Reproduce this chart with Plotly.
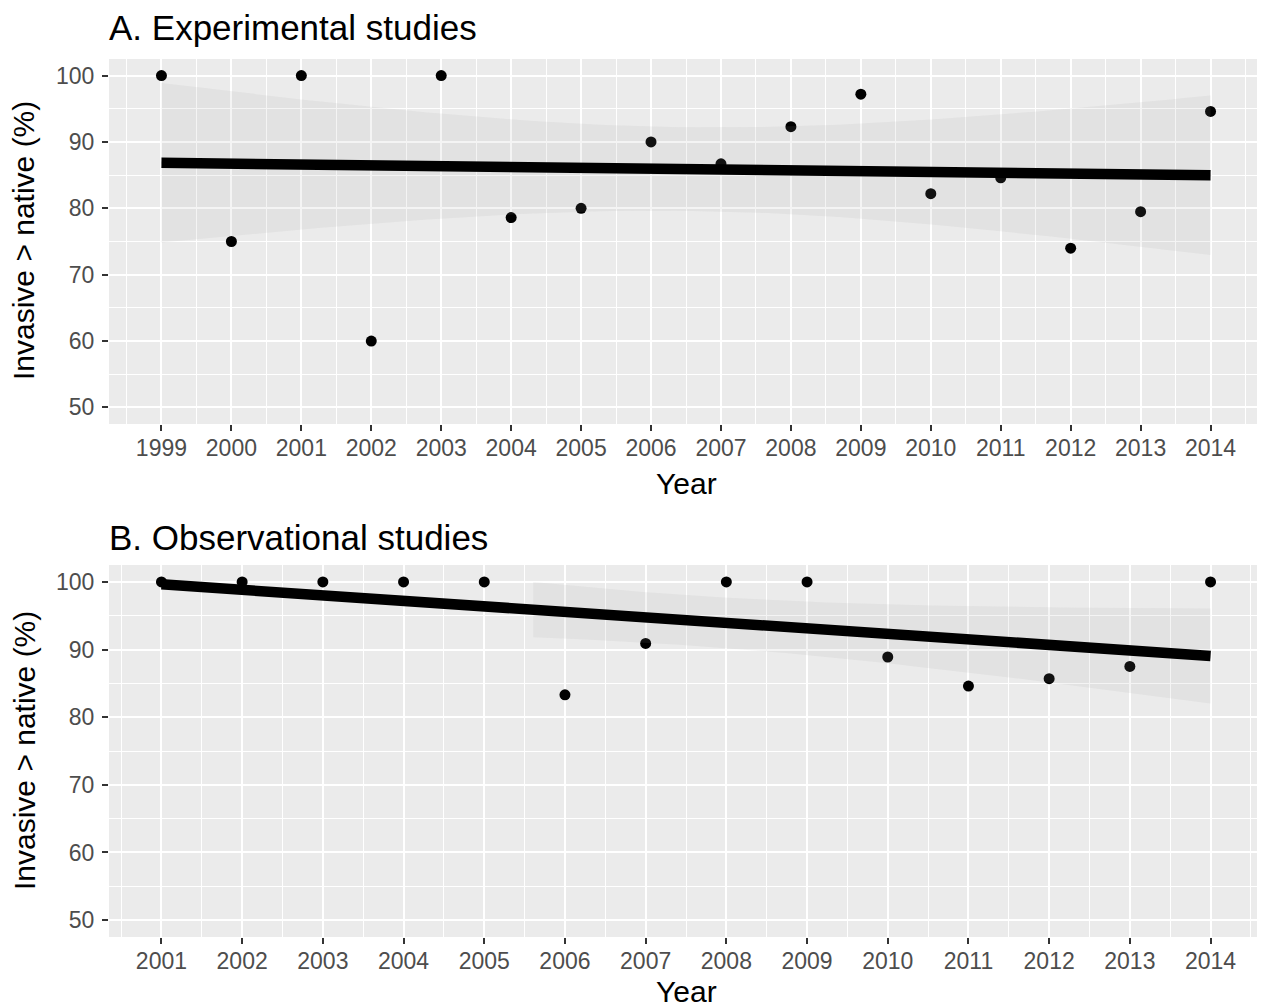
import numpy as np
import plotly.graph_objects as go

# ---------------- data ----------------
exp_years = [1999, 2000, 2001, 2002, 2003, 2004, 2005, 2006, 2007, 2008, 2009, 2010, 2011, 2012, 2013, 2014]
exp_pct = [100, 75, 100, 60, 100, 78.6, 80, 90, 86.7, 92.3, 97.2, 82.2, 84.6, 74, 79.5, 94.6]

obs_years = [2001, 2002, 2003, 2004, 2005, 2006, 2007, 2008, 2009, 2010, 2011, 2012, 2013, 2014]
obs_pct = [100, 100, 100, 100, 100, 83.3, 90.9, 100, 100, 88.9, 84.6, 85.7, 87.5, 100]

y_ticks = [50, 60, 70, 80, 90, 100]
panel_titles = ["A. Experimental studies", "B. Observational studies"]
x_title = "Year"
y_title = "Invasive > native (%)"

# two-sided 95% t critical values by residual degrees of freedom
T_CRIT = {12: 2.178813, 14: 2.144787}
Y_LIM = (50, 100)

# page body has an 8px margin; lay the figure out in window pixels
OFF = 8
W, H = 1265 - OFF, 1008 - OFF
FONT = "Liberation Sans, Arial, sans-serif"


def lm_band(xs, ys, n=80):
    x = np.asarray(xs, float)
    y = np.asarray(ys, float)
    b, a = np.polyfit(x, y, 1)
    resid = y - (a + b * x)
    df = len(x) - 2
    s = np.sqrt(np.sum(resid ** 2) / df)
    xm = x.mean()
    sxx = np.sum((x - xm) ** 2)
    xg = np.linspace(x.min(), x.max(), n)
    fit = a + b * xg
    se = s * np.sqrt(1.0 / len(x) + (xg - xm) ** 2 / sxx)
    t = T_CRIT[df]
    return xg, fit, fit - t * se, fit + t * se


fig = go.Figure()

panels = [
    (exp_years, exp_pct, "x", "y"),
    (obs_years, obs_pct, "x2", "y2"),
]

for xs, ys, xa, ya in panels:
    xg, fit, lo, hi = lm_band(xs, ys)
    # points
    fig.add_trace(go.Scatter(x=xs, y=ys, mode="markers", xaxis=xa, yaxis=ya,
                             marker=dict(color="black", size=11), showlegend=False,
                             hoverinfo="x+y"))
    # confidence band (rows outside scale limits are dropped, as in ggplot)
    keep = (hi <= Y_LIM[1]) & (lo >= Y_LIM[0])
    bx = xg[keep]
    bl = lo[keep]
    bh = hi[keep]
    fig.add_trace(go.Scatter(x=np.concatenate([bx, bx[::-1]]),
                             y=np.concatenate([bh, bl[::-1]]),
                             mode="lines", fill="toself", xaxis=xa, yaxis=ya,
                             fillcolor="rgba(153,153,153,0.11)",
                             line=dict(width=0), showlegend=False, hoverinfo="skip"))
    # fitted line
    fig.add_trace(go.Scatter(x=xg, y=fit, mode="lines", xaxis=xa, yaxis=ya,
                             line=dict(color="black", width=10.5), showlegend=False,
                             hoverinfo="skip"))


def px_x(p):
    return (p - OFF) / W


def px_y(p):
    return 1 - (p - OFF) / H


axis_common = dict(
    showline=False, zeroline=False,
    gridcolor="white", gridwidth=2,
    ticks="outside", ticklen=6, tickwidth=1.6, tickcolor="#333333",
    tickfont=dict(family=FONT, size=23, color="#4D4D4D"),
)

x_dom = [px_x(109), px_x(1263)]

fig.update_layout(
    width=W, height=H,
    margin=dict(l=0, r=0, t=0, b=0),
    paper_bgcolor="white", plot_bgcolor="#EBEBEB",
    font=dict(family=FONT),
    xaxis=dict(domain=x_dom, anchor="y", range=[1998.25, 2014.75],
               tickmode="array", tickvals=exp_years, ticktext=[str(v) for v in exp_years],
               minor=dict(dtick=1, tick0=1998.5, showgrid=True, gridcolor="white", gridwidth=1, ticks=""),
               ticklabelstandoff=-3, **axis_common),
    yaxis=dict(domain=[px_y(424), px_y(59)], anchor="x", range=[47.5, 102.5],
               tickmode="array", tickvals=y_ticks, ticktext=[str(v) for v in y_ticks],
               minor=dict(dtick=10, tick0=55, showgrid=True, gridcolor="white", gridwidth=1, ticks=""),
               ticklabelstandoff=3, **axis_common),
    xaxis2=dict(domain=x_dom, anchor="y2", range=[2000.35, 2014.65],
                tickmode="array", tickvals=obs_years, ticktext=[str(v) for v in obs_years],
                minor=dict(dtick=1, tick0=2000.5, showgrid=True, gridcolor="white", gridwidth=1, ticks=""),
                ticklabelstandoff=-3, **axis_common),
    yaxis2=dict(domain=[px_y(937), px_y(565)], anchor="x2", range=[47.5, 102.5],
                tickmode="array", tickvals=y_ticks, ticktext=[str(v) for v in y_ticks],
                minor=dict(dtick=10, tick0=55, showgrid=True, gridcolor="white", gridwidth=1, ticks=""),
                ticklabelstandoff=3, **axis_common),
)

ann = []
# panel titles
for title, yc in zip(panel_titles, [27, 537]):
    ann.append(dict(text=title, x=px_x(107), y=px_y(yc), xref="paper", yref="paper",
                    xanchor="left", yanchor="middle", showarrow=False,
                    font=dict(family=FONT, size=35, color="black")))
# y titles
for yc in [241, 751]:
    ann.append(dict(text=y_title, x=px_x(24), y=px_y(yc), xref="paper", yref="paper",
                    xanchor="center", yanchor="middle", textangle=-90, showarrow=False,
                    font=dict(family=FONT, size=30, color="black")))
# x titles
for yc in [483, 991]:
    ann.append(dict(text=x_title, x=px_x(686), y=px_y(yc), xref="paper", yref="paper",
                    xanchor="center", yanchor="middle", showarrow=False,
                    font=dict(family=FONT, size=30, color="black")))
fig.update_layout(annotations=ann)

fig.write_html("out.html")
